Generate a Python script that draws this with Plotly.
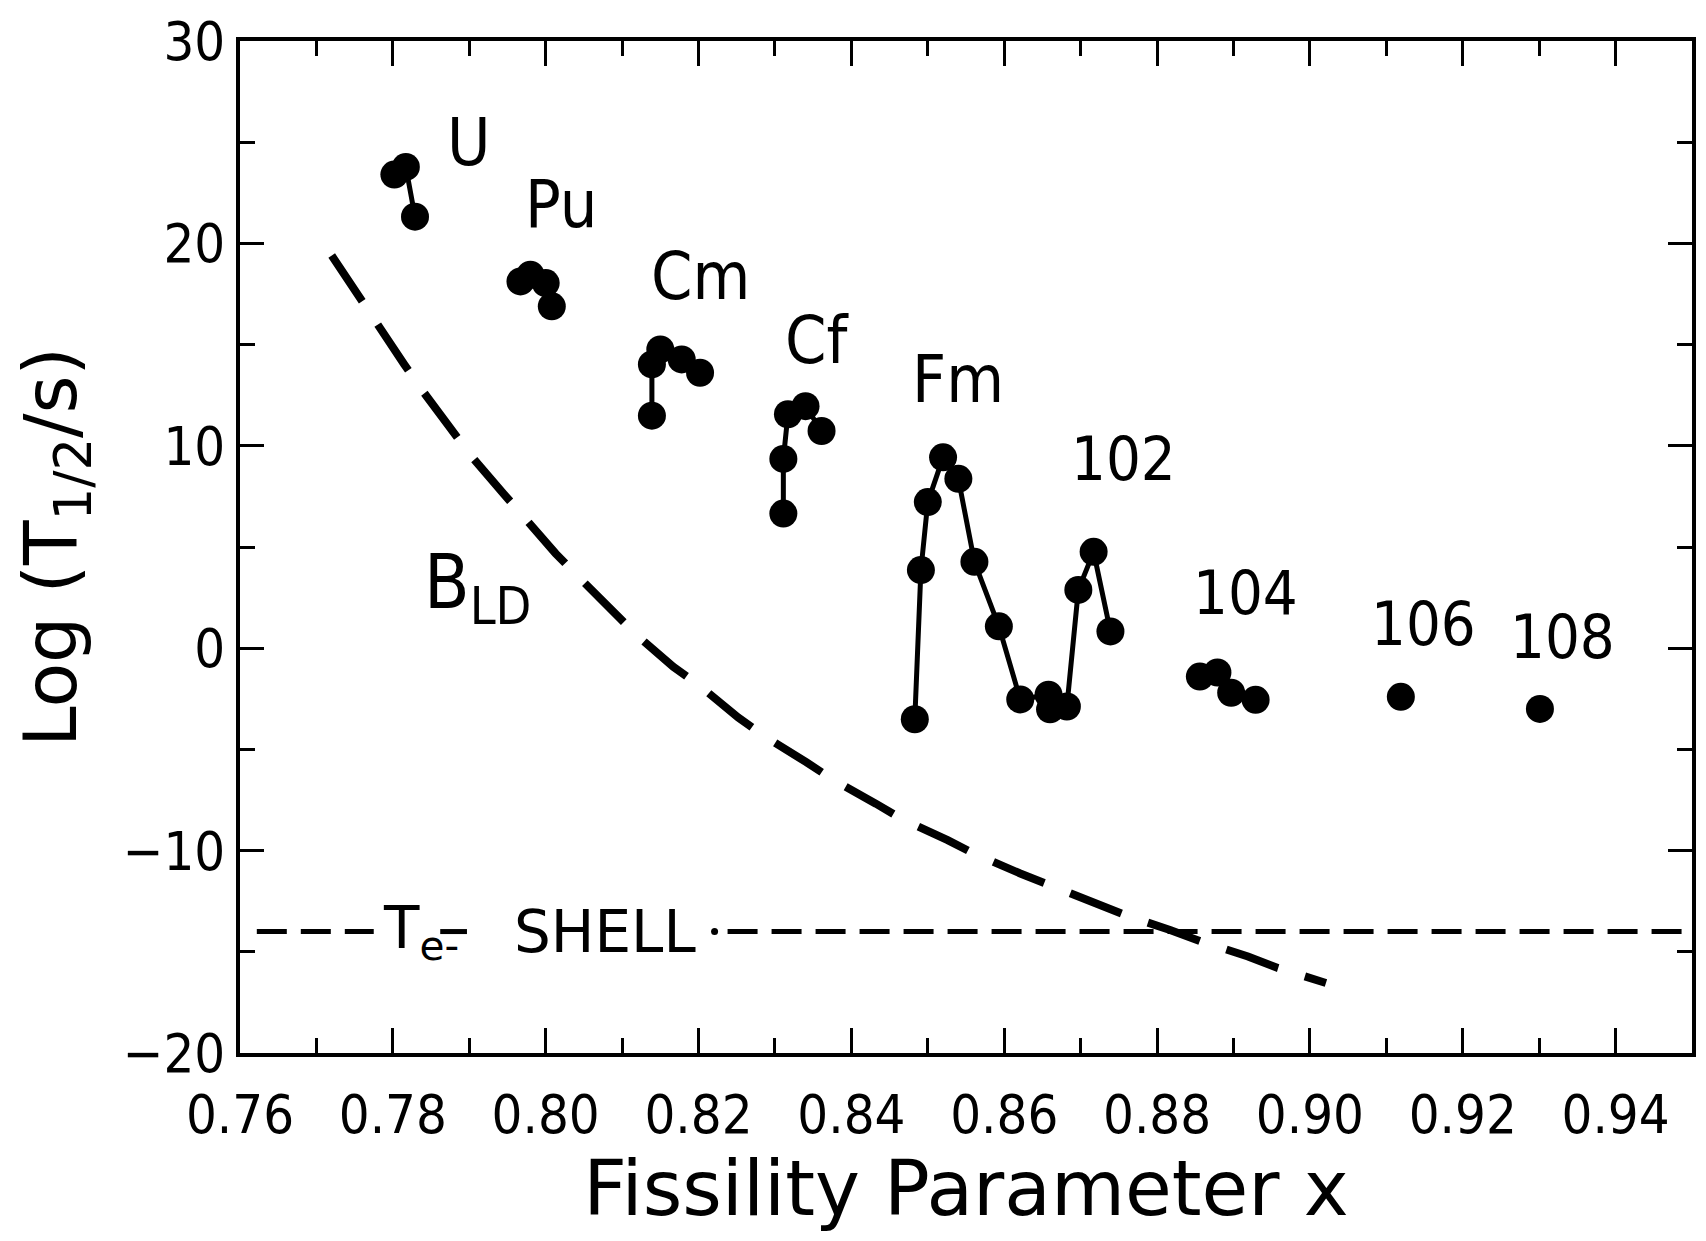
import plotly.graph_objects as go

# ---------------- data ----------------
u_x = [0.7802, 0.7817, 0.7829]
u_y = [23.40, 23.78, 21.32]

pu_x = [0.7967, 0.7980, 0.8000, 0.8008]
pu_y = [18.12, 18.45, 18.04, 16.89]

cm_x = [0.8139, 0.8139, 0.8150, 0.8178, 0.8202]
cm_y = [11.49, 14.02, 14.76, 14.27, 13.61]

cf_x = [0.8311, 0.8311, 0.8317, 0.8340, 0.8361]
cf_y = [6.65, 9.35, 11.56, 11.96, 10.73]

fm_no_x = [0.8483, 0.8491, 0.8500, 0.8520, 0.8540, 0.8561, 0.8593, 0.8621,
           0.8658, 0.8660, 0.8682, 0.8697, 0.8717, 0.8739]
fm_no_y = [-3.51, 3.86, 7.22, 9.43, 8.37, 4.27, 1.08, -2.53,
           -2.30, -3.02, -2.88, 2.88, 4.76, 0.83]

rf_x = [0.8856, 0.8879, 0.8897, 0.8929]
rf_y = [-1.40, -1.20, -2.20, -2.55]

sg_x = [0.9119]
sg_y = [-2.40]

hs_x = [0.9301]
hs_y = [-3.00]

bld_x = [0.7720, 0.7757, 0.7778, 0.7815, 0.7839, 0.7876, 0.7902, 0.7945,
         0.7971, 0.8013, 0.8043, 0.8089, 0.8119, 0.8167, 0.8202, 0.8252,
         0.8285, 0.8341, 0.8374, 0.8432, 0.8465, 0.8526, 0.8560, 0.8621,
         0.8658, 0.8721, 0.8758, 0.8817, 0.8858, 0.8919, 0.8958, 0.9021]
bld_y = [19.40, 17.30, 15.99, 14.02, 12.71, 10.82, 9.52, 7.63,
         6.48, 4.68, 3.52, 1.80, 0.65, -0.92, -1.87, -3.43,
         -4.32, -5.63, -6.45, -7.68, -8.42, -9.48, -10.14, -11.13,
         -11.70, -12.69, -13.18, -13.92, -14.49, -15.23, -15.80, -16.54]

shell_level = -14.0
shell_left_x = [0.7622, 0.7775]
shell_mid_x = [0.7862, 0.7897]
shell_dot_x = [0.8221]
shell_right_x = [0.8238, 0.95]

element_labels = ["U", "Pu", "Cm", "Cf", "Fm"]
element_x = [0.7899, 0.8020, 0.8203, 0.8355, 0.8539]
element_y = [24.97, 21.92, 18.38, 15.19, 13.27]

z_labels = ["102", "104", "106", "108"]
z_x = [0.8756, 0.8916, 0.9148, 0.9331]
z_y = [9.39, 2.75, 1.22, 0.58]

x_tickvals = [0.76, 0.78, 0.80, 0.82, 0.84, 0.86, 0.88, 0.90, 0.92, 0.94]
y_tickvals = [-20, -10, 0, 10, 20, 30]

# ---------------- styling ----------------
NARROW = "Liberation Sans Narrow, Arial Narrow, DejaVu Sans Condensed, sans-serif"
WIDE = "DejaVu Sans, Liberation Sans, sans-serif"
BLACK = "black"

fig = go.Figure()

groups = [(u_x, u_y), (pu_x, pu_y), (cm_x, cm_y), (cf_x, cf_y),
          (fm_no_x, fm_no_y), (rf_x, rf_y), (sg_x, sg_y), (hs_x, hs_y)]
for gx, gy in groups:
    fig.add_trace(go.Scatter(
        x=gx, y=gy, mode="lines+markers",
        line=dict(color=BLACK, width=5),
        marker=dict(color=BLACK, size=28),
        hoverinfo="x+y"))

fig.add_trace(go.Scatter(
    x=bld_x, y=bld_y, mode="lines",
    line=dict(color=BLACK, width=8, dash="55px,28px")))

for sx in (shell_left_x, shell_mid_x, shell_right_x):
    fig.add_trace(go.Scatter(
        x=sx, y=[shell_level] * len(sx), mode="lines",
        line=dict(color=BLACK, width=5, dash="30px,14px")))
fig.add_trace(go.Scatter(
    x=shell_dot_x, y=[shell_level], mode="markers",
    marker=dict(color=BLACK, size=7)))

annotations = []
for t, ax_, ay_ in zip(element_labels, element_x, element_y):
    annotations.append(dict(x=ax_, y=ay_, xref="x", yref="y", text=t,
                            showarrow=False, xanchor="center", yanchor="middle",
                            font=dict(family=NARROW, size=66, color=BLACK)))
for t, ax_, ay_ in zip(z_labels, z_x, z_y):
    annotations.append(dict(x=ax_, y=ay_, xref="x", yref="y", text=t,
                            showarrow=False, xanchor="center", yanchor="middle",
                            font=dict(family=NARROW, size=61, color=BLACK)))
annotations.append(dict(x=0.7838, y=3.0, xref="x", yref="y",
                        text="B<sub>LD</sub>", showarrow=False,
                        xanchor="left", yanchor="middle",
                        font=dict(family=NARROW, size=74, color=BLACK)))
annotations.append(dict(x=0.7784, y=shell_level, xref="x", yref="y",
                        text="T<sub>e-</sub>", showarrow=False,
                        xanchor="left", yanchor="middle",
                        font=dict(family=WIDE, size=58, color=BLACK)))
annotations.append(dict(x=0.7956, y=shell_level, xref="x", yref="y",
                        text="SHELL", showarrow=False,
                        xanchor="left", yanchor="middle",
                        font=dict(family=WIDE, size=58, color=BLACK)))

# page body has an 8px margin: the figure is sized so that it fills the window
fig.update_layout(
    width=1690, height=1225,
    margin=dict(l=232, r=2, t=29, b=179),
    plot_bgcolor="white", paper_bgcolor="white",
    showlegend=False,
    annotations=annotations,
)

fig.update_xaxes(
    range=[0.76, 0.95], tickvals=x_tickvals,
    ticktext=[f"{v:.2f}" for v in x_tickvals],
    ticks="inside", ticklen=25, tickwidth=3, tickcolor=BLACK,
    minor=dict(dtick=0.01, tick0=0.76, ticks="inside", ticklen=15, tickwidth=3, tickcolor=BLACK),
    showline=True, linewidth=4, linecolor=BLACK, mirror="ticks",
    showgrid=False, zeroline=False,
    tickfont=dict(family=NARROW, size=54, color=BLACK),
    ticklabelstandoff=11, ticklabeloverflow="allow",
    title=dict(text="Fissility Parameter x", font=dict(family=WIDE, size=76, color=BLACK),
               standoff=32),
)
fig.update_yaxes(
    range=[-20, 30], tickvals=y_tickvals,
    ticks="inside", ticklen=24, tickwidth=3, tickcolor=BLACK,
    minor=dict(dtick=5, tick0=0, ticks="inside", ticklen=15, tickwidth=3, tickcolor=BLACK),
    showline=True, linewidth=4, linecolor=BLACK, mirror="ticks",
    showgrid=False, zeroline=False,
    tickfont=dict(family=NARROW, size=54, color=BLACK),
    ticklabelstandoff=0, ticklabeloverflow="allow",
    title=dict(text="Log (T<sub>1/2</sub>/s)", font=dict(family=WIDE, size=73, color=BLACK),
               standoff=30),
)

fig.write_html("out.html")
